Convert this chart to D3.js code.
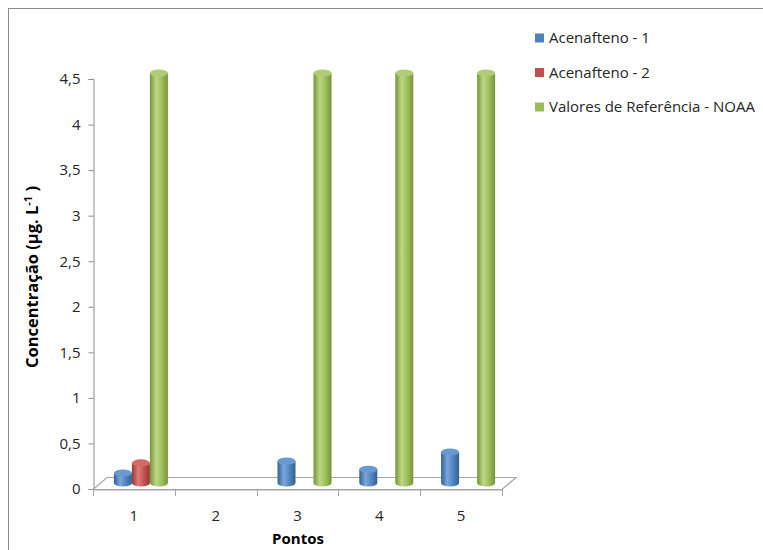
<!DOCTYPE html>
<html>
<head>
<meta charset="utf-8">
<script src="https://cdn.jsdelivr.net/npm/d3@7"></script>
<style>
  body { margin: 0; background: #fff; }
  text { font-family: "Liberation Sans Narrow", "Open Sans", sans-serif; }
</style>
</head>
<body>
<div id="chart"></div>
<script>
/* 3D-style cylinder chart: Acenafteno */

const categories = ["1", "2", "3", "4", "5"];
const seriesNames = ["Acenafteno - 1", "Acenafteno - 2", "Valores de Referência - NOAA"];
const acenafteno1 = [0.11, null, 0.24, 0.15, 0.34];
const acenafteno2 = [0.22, null, null, null, null];
const noaa = [4.5, null, 4.5, 4.5, 4.5];
const yTicks = [0, 0.5, 1, 1.5, 2, 2.5, 3, 3.5, 4, 4.5];

const width = 763,
    height = 550,
    depthX = 14, depthY = 12;

const colors = [
    {base: "#4F81BD", light: "#7ba7dc", dark: "#345f93", top: "#6a98d2"},
    {base: "#C0504D", light: "#de7d7a", dark: "#963532", top: "#d46966"},
    {base: "#9BBB59", light: "#bdd884", dark: "#769438", top: "#b0cc74"}
];

const allSeries = [acenafteno1, acenafteno2, noaa];

let svg = d3.select("#chart")
    .append("svg")
    .attr("width", width)
    .attr("height", height);

// chart frame
svg.append("rect")
    .attr("x", 8.5).attr("y", 8.5)
    .attr("width", width + 20).attr("height", height + 20)
    .attr("fill", "none")
    .attr("stroke", "#8c8c8c");

let defs = svg.append("defs");
colors.forEach((c, i) => {
    let g = defs.append("linearGradient")
        .attr("id", "cyl" + i)
        .attr("x1", "0%").attr("x2", "100%").attr("y1", "0%").attr("y2", "0%");
    g.append("stop").attr("offset", "0%").attr("stop-color", c.dark);
    g.append("stop").attr("offset", "35%").attr("stop-color", c.light);
    g.append("stop").attr("offset", "70%").attr("stop-color", c.base);
    g.append("stop").attr("offset", "100%").attr("stop-color", c.dark);
});

let x = d3.scaleBand()
    .domain(categories)
    .range([93, 502]);

let xs = d3.scaleBand()
    .domain(d3.range(3))
    .range([x.bandwidth() * 0.17, x.bandwidth() * 0.83]);

let y = d3.scaleLinear()
    .domain([0, 4.5])
    .range([489, 79]);

// y axis
const yAxis = g => g
    .attr("transform", `translate(93.5,0)`)
    .call(d3.axisLeft(y).tickValues(yTicks).tickSizeOuter(0).tickSize(5).tickPadding(8)
        .tickFormat(d => String(d).replace(".", ",")));

svg.append("g")
    .call(yAxis)
    .call(g => g.selectAll("line, path").attr("stroke", "#8c8c8c"))
    .call(g => g.selectAll("text").attr("font-size", 15).attr("fill", "#262626")
        .style("font-family", "'Liberation Sans Narrow', 'Open Sans', sans-serif"));

// floor
const x0 = x.range()[0], x1 = x.range()[1], yb = y(0);
svg.append("path")
    .attr("d", `M${x0},${yb + 0.5}L${x0 + depthX},${yb - depthY + 0.5}L${x1 + depthX},${yb - depthY + 0.5}L${x1},${yb + 0.5}Z`)
    .attr("fill", "none")
    .attr("stroke", "#a6a6a6")
    .attr("stroke-width", 1.2);

// x axis
const xAxis = g => g
    .attr("transform", `translate(0,${yb + 0.5})`)
    .call(d3.axisBottom(x).tickSize(0).tickPadding(21).tickSizeOuter(0));

svg.append("g")
    .call(xAxis)
    .call(g => g.select(".domain").attr("stroke", "#a6a6a6").attr("stroke-width", 1.2))
    .call(g => g.selectAll("text").attr("font-size", 15).attr("fill", "#262626")
        .style("font-family", "'Liberation Sans Narrow', 'Open Sans', sans-serif"));

svg.append("g")
    .selectAll("line")
    .data(categories.concat(["end"]))
    .join("line")
    .attr("x1", (d, i) => Math.round(x0 + i * x.step()) + 0.5)
    .attr("x2", (d, i) => Math.round(x0 + i * x.step()) + 0.5)
    .attr("y1", yb)
    .attr("y2", yb + 7)
    .attr("stroke", "#a6a6a6");

// cylinders
const rx = xs.bandwidth() / 2, ry = 3.6;
let bars = [];
categories.forEach((c, ci) => {
    allSeries.forEach((s, si) => {
        if (s[ci] != null) bars.push({cat: c, s: si, v: s[ci]});
    });
});

let bar = svg.selectAll(".bar")
    .data(bars)
    .join("g")
    .attr("class", "bar");

bar.append("path")
    .attr("fill", d => `url(#cyl${d.s})`)
    .attr("d", d => {
        const l = x(d.cat) + xs(d.s) + depthX / 2;
        const r = l + 2 * rx;
        const b = y(0) - depthY / 2;
        const t = y(d.v) - depthY / 2;
        return `M${l},${t}L${l},${b}A${rx},${ry} 0 0 0 ${r},${b}L${r},${t}Z`;
    });

bar.append("ellipse")
    .attr("cx", d => x(d.cat) + xs(d.s) + depthX / 2 + rx)
    .attr("cy", d => y(d.v) - depthY / 2)
    .attr("rx", rx)
    .attr("ry", ry)
    .attr("fill", d => colors[d.s].top);

// axis titles
svg.append("text")
    .attr("transform", "translate(38,277) rotate(-90)")
    .attr("text-anchor", "middle")
    .attr("font-size", 16.5)
    .attr("font-weight", "bold")
    .attr("fill", "#000")
    .style("font-family", "'Liberation Sans Narrow', 'Open Sans', sans-serif")
    .html('Concentração (µg. L<tspan dy="-6" font-size="11">-1</tspan><tspan dy="6"> )</tspan>');

svg.append("text")
    .attr("x", 298)
    .attr("y", 544)
    .attr("text-anchor", "middle")
    .attr("font-size", 15)
    .attr("font-weight", "bold")
    .attr("fill", "#000")
    .text("Pontos");

// legend
let legend = svg.selectAll(".legend")
    .data(seriesNames)
    .join("g")
    .attr("class", "legend")
    .attr("transform", (d, i) => `translate(535,${38 + i * 34.5})`);

legend.append("rect")
    .attr("x", 0).attr("y", -4.5)
    .attr("width", 9).attr("height", 9)
    .attr("fill", (d, i) => colors[i].base);

legend.append("text")
    .attr("x", 14)
    .attr("y", 0)
    .attr("dy", "0.35em")
    .attr("font-size", 15)
    .attr("fill", "#262626")
    .text(d => d);
</script>
</body>
</html>
